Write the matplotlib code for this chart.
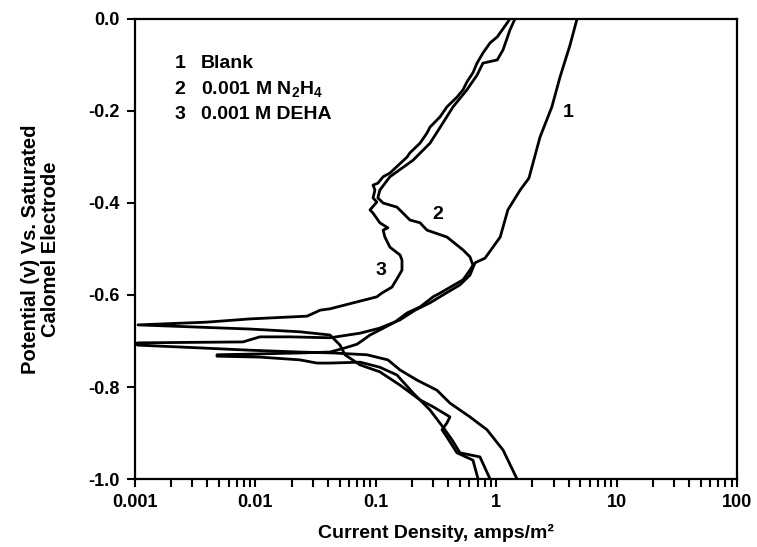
import matplotlib
matplotlib.use("Agg")
import matplotlib.pyplot as plt
import numpy as np

plt.rcParams['font.family'] = ['Liberation Sans', 'DejaVu Sans']
plt.rcParams['font.weight'] = 'bold'
plt.rcParams['mathtext.fontset'] = 'custom'
plt.rcParams['mathtext.bf'] = 'Liberation Sans:bold'
plt.rcParams['mathtext.rm'] = 'Liberation Sans:bold'
plt.rcParams['mathtext.default'] = 'bf'
plt.rcParams['axes.unicode_minus'] = False

# Curve 1 - Blank (cathodic from -1.0 V up to Ecorr, then anodic up to 0 V)
blank_i = [1.49, 1.14, 0.839, 0.605, 0.413, 0.322, 0.220, 0.159, 0.126, 0.0846, 0.0442, 0.0234,
           0.009, 0.00347, 0.00106, 0.00100,
           0.00106, 0.00789, 0.0109, 0.0194, 0.0417, 0.074, 0.108, 0.159, 0.212, 0.282, 0.361,
           0.50, 0.605, 0.667, 0.807, 1.08, 1.25, 1.58, 1.87, 2.31, 2.90, 3.39, 4.10, 4.69]
blank_e = [-1.0, -0.937, -0.893, -0.865, -0.835, -0.807, -0.785, -0.763, -0.741, -0.730, -0.726, -0.724,
           -0.720, -0.715, -0.709, -0.706,
           -0.704, -0.702, -0.691, -0.691, -0.693, -0.683, -0.672, -0.654, -0.633, -0.617, -0.600,
           -0.578, -0.557, -0.530, -0.520, -0.474, -0.415, -0.372, -0.346, -0.257, -0.191, -0.126, -0.057, 0.0]

# Curve 2 - 0.001 M N2H4
hyd_i = [0.889, 0.733, 0.50, 0.43, 0.361, 0.282, 0.204, 0.150, 0.108, 0.074, 0.0417, 0.0325, 0.0234,
         0.0109, 0.0048,
         0.0048, 0.0109, 0.0234, 0.0417, 0.0555, 0.0698, 0.0783, 0.0895, 0.108, 0.144, 0.182, 0.233,
         0.299, 0.341, 0.530, 0.605, 0.641, 0.605, 0.530, 0.390, 0.266, 0.233, 0.192, 0.150, 0.115,
         0.104, 0.108, 0.131, 0.204, 0.282, 0.361, 0.438, 0.571, 0.693, 0.776, 1.02, 1.14, 1.30, 1.43]
hyd_e = [-1.0, -0.952, -0.943, -0.915, -0.887, -0.850, -0.813, -0.774, -0.757, -0.746, -0.748, -0.748, -0.741,
         -0.735, -0.733,
         -0.730, -0.728, -0.726, -0.724, -0.715, -0.707, -0.698, -0.687, -0.676, -0.659, -0.639, -0.626,
         -0.604, -0.596, -0.567, -0.546, -0.535, -0.517, -0.502, -0.474, -0.459, -0.443, -0.437, -0.409, -0.400,
         -0.389, -0.372, -0.343, -0.307, -0.270, -0.226, -0.191, -0.154, -0.122, -0.096, -0.089, -0.067, -0.024, 0.0]

# Curve 3 - 0.001 M DEHA
deha_i = [0.707, 0.641, 0.472, 0.390, 0.355, 0.390, 0.413, 0.299, 0.233, 0.159, 0.108, 0.074, 0.0555,
          0.0505, 0.0417, 0.0234, 0.009, 0.00347, 0.00106,
          0.00396, 0.009, 0.0269, 0.0345, 0.0417, 0.0698, 0.102, 0.112, 0.136, 0.153, 0.165, 0.165,
          0.159, 0.131, 0.119, 0.115, 0.126, 0.108, 0.0949, 0.0895, 0.102, 0.0949, 0.0984, 0.0949,
          0.104, 0.115, 0.131, 0.182, 0.192, 0.233, 0.266, 0.282, 0.341, 0.390, 0.472, 0.530, 0.571,
          0.641, 0.693, 0.776, 0.889, 1.02, 1.23, 1.30]
deha_e = [-1.0, -0.959, -0.943, -0.909, -0.893, -0.878, -0.865, -0.843, -0.828, -0.796, -0.767, -0.752, -0.730,
          -0.709, -0.687, -0.680, -0.674, -0.670, -0.665,
          -0.659, -0.652, -0.646, -0.633, -0.630, -0.615, -0.604, -0.596, -0.583, -0.561, -0.546, -0.524,
          -0.513, -0.496, -0.474, -0.459, -0.454, -0.443, -0.422, -0.415, -0.398, -0.389, -0.372, -0.361,
          -0.357, -0.343, -0.335, -0.300, -0.291, -0.270, -0.248, -0.235, -0.213, -0.191, -0.170, -0.154, -0.137,
          -0.117, -0.096, -0.074, -0.052, -0.039, -0.009, 0.0]

legend_nums = ['1', '2', '3']
legend_names = ['Blank', '0.001 M N$_2$H$_4$', '0.001 M DEHA']
legend_y = [0.8935, 0.837, 0.7826]   # baselines, axes fraction

# in-plot curve labels: (text, current, potential)
curve_labels = [('1', 3.94, -0.204), ('2', 0.329, -0.426), ('3', 0.110, -0.546)]

x_ticks = [0.001, 0.01, 0.1, 1, 10, 100]
x_ticklabels = ['0.001', '0.01', '0.1', '1', '10', '100']
y_ticks = [-1.0, -0.8, -0.6, -0.4, -0.2, 0.0]
y_ticklabels = ['-1.0', '-0.8', '-0.6', '-0.4', '-0.2', '0.0']

fig = plt.figure(figsize=(7.57, 5.47), dpi=100)
ax = fig.add_axes([0.1783, 0.1243, 0.7953, 0.841])

for ci, ce in [(blank_i, blank_e), (hyd_i, hyd_e), (deha_i, deha_e)]:
    ax.plot(ci, ce, color='black', lw=2.0, solid_joinstyle='round')

ax.set_xscale('log')
ax.set_xlim(0.001, 100)
ax.set_ylim(-1.0, 0.0)

ax.set_xticks(x_ticks)
ax.set_xticklabels(x_ticklabels)
ax.set_yticks(y_ticks)
ax.set_yticklabels(y_ticklabels)
ax.xaxis.set_minor_locator(matplotlib.ticker.LogLocator(base=10, subs=np.arange(2, 10), numticks=20))
ax.xaxis.set_minor_formatter(matplotlib.ticker.NullFormatter())

ax.tick_params(axis='both', which='major', direction='out', length=6, width=1.5, labelsize=13, pad=5)
ax.tick_params(axis='x', which='minor', direction='out', length=5.5, width=1.5)
for s in ax.spines.values():
    s.set_linewidth(1.6)

ax.set_xlabel('Current Density, amps/m\u00b2', fontsize=14, fontweight='bold')
ax.xaxis.set_label_coords(0.5, -0.098)
ax.set_ylabel('Potential (v) Vs. Saturated\nCalomel Electrode', fontsize=14.5, fontweight='bold',
              linespacing=1.05)
ax.yaxis.set_label_coords(-0.125, 0.5)

for n, name, yy in zip(legend_nums, legend_names, legend_y):
    ax.text(0.066, yy, n, transform=ax.transAxes, fontsize=14, fontweight='bold', va='baseline')
    ax.text(0.110, yy, name, transform=ax.transAxes, fontsize=14, fontweight='bold', va='baseline')

for t, xx, yy in curve_labels:
    ax.text(xx, yy, t, fontsize=14, fontweight='bold', ha='center', va='center')

fig.savefig('out.png', dpi=100)
